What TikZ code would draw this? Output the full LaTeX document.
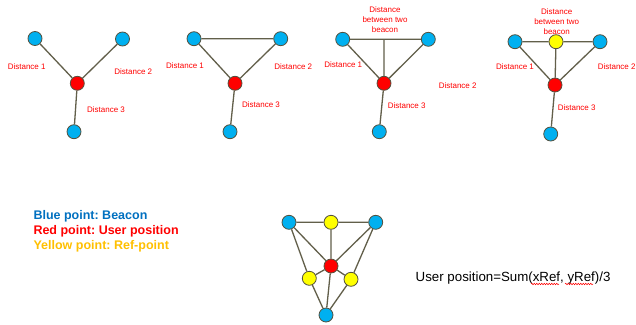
\documentclass[tikz,border=0pt]{standalone}
\usepackage{fontspec}
\setmainfont{Liberation Sans}
\usetikzlibrary{backgrounds,decorations.pathmorphing}
\definecolor{beacon}{HTML}{00B0F0}
\definecolor{userpt}{HTML}{FF0000}
\definecolor{refpt}{HTML}{FFFF00}
\definecolor{edgecol}{HTML}{625F4A}
\definecolor{legblue}{HTML}{0070C0}
\definecolor{legyellow}{HTML}{FFC000}
\tikzset{
  dot/.style={circle,draw=edgecol!85!black,line width=0.8pt,minimum size=14pt,inner sep=0pt},
  bdot/.style={dot,fill=beacon},
  rdot/.style={dot,fill=userpt},
  ydot/.style={dot,fill=refpt},
  link/.style={draw=edgecol,line width=1.3pt},
  dist/.style={text=userpt,font=\fontsize{8}{9.7}\selectfont,inner sep=0pt},
  legend/.style={font=\fontsize{12.5}{15}\selectfont\bfseries,anchor=west,inner sep=0pt},
  squiggle/.style={userpt,line width=0.5pt,decorate,decoration={snake,amplitude=0.8pt,segment length=2.5pt}},
}
\frenchspacing
\begin{document}
\begin{tikzpicture}[x=1pt,y=-1pt]
\useasboundingbox (0,0) rectangle (636,324);
\clip (0,0) rectangle (636,324);

% --- first sketch: three beacons, three distances
\node[bdot] (a1) at (35,38.5) {};
\node[bdot] (a2) at (122.5,39) {};
\node[rdot] (au) at (77.3,83.3) {};
\node[bdot] (a3) at (74,131.7) {};
\node[dist] (ad1) at (26.7,66.7) {Distance 1};
\node[dist] (ad2) at (133.3,71.7) {Distance 2};
\node[dist] (ad3) at (106,110) {Distance 3};

% --- second sketch: beacons 1 and 2 joined
\node[bdot] (b1) at (194,38.7) {};
\node[bdot] (b2) at (280.7,38.7) {};
\node[rdot] (bu) at (235,83.3) {};
\node[bdot] (b3) at (230,131.7) {};
\node[dist] (bd1) at (185,65.7) {Distance 1};
\node[dist] (bd2) at (293.3,66.7) {Distance 2};
\node[dist] (bd3) at (261,105) {Distance 3};

% --- third sketch: distance between two beacons
\node[bdot] (c1) at (342.7,39.3) {};
\node[bdot] (c2) at (428.3,39.3) {};
\node[rdot] (cu) at (384,83.3) {};
\node[bdot] (c3) at (379.3,131.7) {};
\coordinate (cm) at (384,39.3);
\node[dist,align=center] (cdb) at (385,19.7) {Distance\\between two\\beacon};
\node[dist] (cd1) at (343.3,64.3) {Distance 1};
\node[dist] (cd2) at (457.7,86) {Distance 2};
\node[dist] (cd3) at (406.7,105.3) {Distance 3};

% --- fourth sketch: reference point between the beacons
\node[bdot] (d1) at (515,41.7) {};
\node[ydot] (dm) at (556,41.7) {};
\node[bdot] (d2) at (600,41.7) {};
\node[rdot] (du) at (555,85) {};
\node[bdot] (d3) at (550.7,134) {};
\node[dist,align=center] (ddb) at (556.7,21.7) {Distance\\between two\\beacon};
\node[dist] (dd1) at (515,66.7) {Distance 1};
\node[dist] (dd2) at (616.7,66.7) {Distance 2};
\node[dist] (dd3) at (576.7,107.7) {Distance 3};

% --- combined sketch: three reference points
\node[bdot] (e1) at (289,222.3) {};
\node[ydot] (ey1) at (331,222.3) {};
\node[bdot] (e2) at (375.7,222.3) {};
\node[rdot] (eu) at (331,266) {};
\node[ydot] (ey2) at (309.3,278.3) {};
\node[ydot] (ey3) at (351,279.3) {};
\node[bdot] (e3) at (326,315) {};

% --- legend and formula
\node[legend,text=legblue] (l1) at (33.3,216.5) {Blue point: Beacon};
\node[legend,text=userpt] (l2) at (33.3,231.5) {Red point: User position};
\node[legend,text=legyellow] (l3) at (33.3,246.7) {Yellow point: Ref-point};
\node[font=\fontsize{13.3}{15}\selectfont,anchor=west,inner sep=0pt] (fm) at (415.5,277.7)
  {User position=Sum(xRef, yRef)/3};
\coordinate (sq1a) at (531,284);
\coordinate (sq1b) at (559,284);
\coordinate (sq2a) at (565,284);
\coordinate (sq2b) at (593,284);
\draw[squiggle] (sq1a) -- (sq1b);
\draw[squiggle] (sq2a) -- (sq2b);

\begin{scope}[on background layer]
  \fill[white] (0,0) rectangle (636,324);
  \path[link] (a1) -- (au) -- (a2) (au) -- (a3);
  \path[link] (b1) -- (b2) -- (bu) -- (b1) (bu) -- (b3);
  \path[link] (c1) -- (c2) -- (cu) -- (c1) (cu) -- (c3) (cu) -- (cm);
  \path[link] (d1) -- (dm) -- (d2) -- (du) -- (d1) (du) -- (dm) (du) -- (d3);
  \path[link] (e1) -- (ey1) -- (e2) (ey1) -- (eu) (e1) -- (eu) -- (e2)
    (e1) -- (ey2) -- (e3) -- (ey3) -- (e2)
    (eu) -- (ey2) (eu) -- (ey3) (eu) -- (e3);
\end{scope}
\end{tikzpicture}
\end{document}
